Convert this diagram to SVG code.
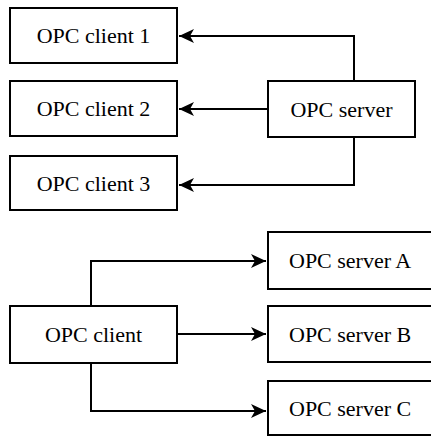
<svg xmlns="http://www.w3.org/2000/svg" width="431" height="437" viewBox="0 0 431 437">
<style>
rect{fill:#fff;stroke:#000;stroke-width:2}
text{font-size:22px;fill:#000}
.c{text-anchor:middle}
.e{fill:none;stroke:#000;stroke-width:2}
</style>
<defs>
<marker id="ah" markerUnits="userSpaceOnUse" markerWidth="16" markerHeight="14" refX="15" refY="7" orient="auto">
<path d="M0,0 L15,7 L0,14 L4,7 Z" fill="#000"/>
</marker>
</defs>
<g id="connectors">
<path class="e" d="M354,81 V36 H179" marker-end="url(#ah)"/>
<path class="e" d="M268,109 H179" marker-end="url(#ah)"/>
<path class="e" d="M354,137 V185 H179" marker-end="url(#ah)"/>
<path class="e" d="M91,306 V261 H266" marker-end="url(#ah)"/>
<path class="e" d="M177,334 H266" marker-end="url(#ah)"/>
<path class="e" d="M91,363 V411 H266" marker-end="url(#ah)"/>
</g>
<g font-family="Liberation Serif, Times New Roman, serif">
<g id="client1"><rect x="10" y="8" width="167" height="55"/><text class="c" x="93.5" y="43">OPC client 1</text></g>
<g id="client2"><rect x="10" y="81" width="167" height="55"/><text class="c" x="93.5" y="116">OPC client 2</text></g>
<g id="client3"><rect x="10" y="156" width="167" height="54"/><text class="c" x="93.5" y="190.5">OPC client 3</text></g>
<g id="server"><rect x="268" y="81" width="147" height="56"/><text class="c" x="341.5" y="116.5">OPC server</text></g>
<g id="client"><rect x="10" y="306" width="167" height="57"/><text class="c" x="93.5" y="342">OPC client</text></g>
<g id="serverA"><rect x="268" y="232" width="175" height="57"/><text x="289" y="268">OPC server A</text></g>
<g id="serverB"><rect x="268" y="306" width="175" height="56"/><text x="289" y="342">OPC server B</text></g>
<g id="serverC"><rect x="268" y="381" width="175" height="54"/><text x="289" y="416">OPC server C</text></g>
</g>
</svg>
